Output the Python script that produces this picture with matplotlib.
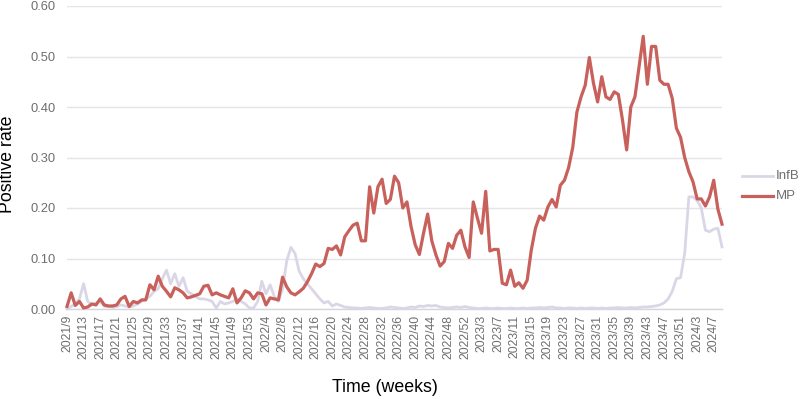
import matplotlib
matplotlib.use("Agg")
import matplotlib.pyplot as plt
from matplotlib.lines import Line2D
import numpy as np

plt.rcParams['font.family'] = ['Liberation Sans', 'DejaVu Sans']

# Category axis: weeks from 2021/9 to 2024/9
years = [2021, 2022, 2023, 2024]
first_week = [9, 1, 1, 1]
last_week = [53, 53, 52, 9]
weeks = []
for y, a, b in zip(years, first_week, last_week):
    for w in range(a, b + 1):
        weeks.append(f"{y}/{w}")

mp = [
    0.005, 0.032, 0.007, 0.015, 0.002, 0.004, 0.010, 0.008, 0.020, 0.008,
    0.006, 0.006, 0.008, 0.020, 0.025, 0.005, 0.015, 0.012, 0.018, 0.018,
    0.048, 0.038, 0.065, 0.045, 0.035, 0.024, 0.042, 0.038, 0.032, 0.022,
    0.024, 0.027, 0.030, 0.045, 0.047, 0.028, 0.032, 0.028, 0.025, 0.022,
    0.040, 0.012, 0.022, 0.036, 0.032, 0.020, 0.032, 0.030, 0.008, 0.022,
    0.020, 0.018, 0.063, 0.044, 0.032, 0.028, 0.034, 0.041, 0.054, 0.070,
    0.089, 0.084, 0.090, 0.120, 0.118, 0.125, 0.107, 0.143, 0.155, 0.166,
    0.170, 0.135, 0.135, 0.242, 0.190, 0.242, 0.257, 0.209, 0.217, 0.263,
    0.250, 0.200, 0.212, 0.163, 0.127, 0.108, 0.150, 0.188, 0.135, 0.107,
    0.085, 0.094, 0.130, 0.120, 0.146, 0.156, 0.123, 0.102, 0.212, 0.180,
    0.150, 0.233, 0.115, 0.118, 0.118, 0.051, 0.048, 0.077, 0.045, 0.052,
    0.041, 0.057, 0.117, 0.160, 0.184, 0.176, 0.202, 0.217, 0.202, 0.245,
    0.255, 0.280, 0.320, 0.390, 0.420, 0.443, 0.498, 0.447, 0.410, 0.460,
    0.420, 0.415, 0.430, 0.425, 0.374, 0.315, 0.400, 0.420, 0.480, 0.540,
    0.445, 0.520, 0.520, 0.453, 0.445, 0.445, 0.417, 0.358, 0.340, 0.300,
    0.272, 0.252, 0.218, 0.218, 0.204, 0.222, 0.255, 0.198, 0.168,
]

infb = [
    0.000, 0.005, 0.010, 0.020, 0.050, 0.015, 0.008, 0.012, 0.015, 0.005,
    0.005, 0.003, 0.005, 0.008, 0.006, 0.004, 0.006, 0.010, 0.015, 0.020,
    0.025, 0.035, 0.040, 0.060, 0.077, 0.050, 0.070, 0.045, 0.062, 0.035,
    0.030, 0.025, 0.020, 0.020, 0.018, 0.015, 0.002, 0.015, 0.010, 0.012,
    0.015, 0.020, 0.015, 0.010, 0.002, 0.002, 0.015, 0.055, 0.030, 0.048,
    0.025, 0.015, 0.040, 0.095, 0.122, 0.110, 0.075, 0.060, 0.050, 0.040,
    0.030, 0.020, 0.012, 0.015, 0.006, 0.010, 0.007, 0.004, 0.003, 0.002,
    0.002, 0.001, 0.002, 0.003, 0.002, 0.001, 0.001, 0.002, 0.004, 0.003,
    0.002, 0.001, 0.002, 0.004, 0.003, 0.006, 0.005, 0.007, 0.006, 0.007,
    0.004, 0.003, 0.002, 0.003, 0.004, 0.003, 0.005, 0.003, 0.002, 0.001,
    0.001, 0.002, 0.001, 0.001, 0.002, 0.001, 0.001, 0.002, 0.001, 0.001,
    0.002, 0.001, 0.002, 0.002, 0.003, 0.002, 0.003, 0.004, 0.002, 0.002,
    0.001, 0.002, 0.002, 0.001, 0.002, 0.001, 0.002, 0.002, 0.001, 0.002,
    0.001, 0.002, 0.002, 0.003, 0.002, 0.002, 0.003, 0.002, 0.003, 0.004,
    0.004, 0.005, 0.006, 0.008, 0.012, 0.020, 0.035, 0.060, 0.062, 0.110,
    0.222, 0.222, 0.215, 0.200, 0.156, 0.153, 0.158, 0.160, 0.123,
]

series_names = ["InfB", "MP"]
colors = {"InfB": "#dbd6e6", "MP": "#c8605b"}

fig = plt.figure(figsize=(8.0, 3.99), dpi=100)
ax = fig.add_axes([67 / 800, 1 - 309 / 399, (722 - 67) / 800, (309 - 6) / 399])

x = np.arange(len(weeks))
ax.plot(x, infb, color=colors["InfB"], lw=2.0, solid_joinstyle='round',
        zorder=3, clip_on=False)
ax.plot(x, mp, color=colors["MP"], lw=2.3, solid_joinstyle='round',
        zorder=4, clip_on=False)

ax.set_xlim(0, len(weeks) - 1)
ax.set_ylim(0, 0.6)
yt = np.arange(0, 0.61, 0.1)
ax.set_yticks(yt)
ax.set_yticklabels([f"{v:.2f}" for v in yt], color="#6e6e6e", fontsize=9.3)
ax.set_xticks(x[::4])
ax.set_xticklabels(weeks[::4], rotation=90, color="#6e6e6e", fontsize=8.8)
ax.tick_params(axis='both', length=0)
ax.tick_params(axis='y', pad=8)
ax.tick_params(axis='x', pad=4)

ax.grid(axis='y', color="#e4e4ea", lw=1.0)
ax.set_axisbelow(True)
for s in ["top", "right", "left"]:
    ax.spines[s].set_visible(False)
ax.spines["bottom"].set_color("#d6d6dc")
ax.spines["bottom"].set_linewidth(1.0)

fig.text(8 / 800, 1 - 164 / 399, "Positive rate", rotation=90, fontsize=12.8,
         color="black", ha="center", va="center")
fig.text(385 / 800, 1 - 387 / 399, "Time (weeks)", fontsize=12.8,
         color="black", ha="center", va="center")

# legend
for name, ly in zip(series_names, [176, 196]):
    yy = 1 - ly / 399
    fig.add_artist(Line2D([742 / 800, 773 / 800], [yy, yy], color=colors[name],
                          lw=2.3 if name == "MP" else 2.0, transform=fig.transFigure))
    fig.text(776 / 800, yy, name, fontsize=9.5, color="#6e6e6e", ha="left", va="center")

fig.savefig("out.png", dpi=100)
